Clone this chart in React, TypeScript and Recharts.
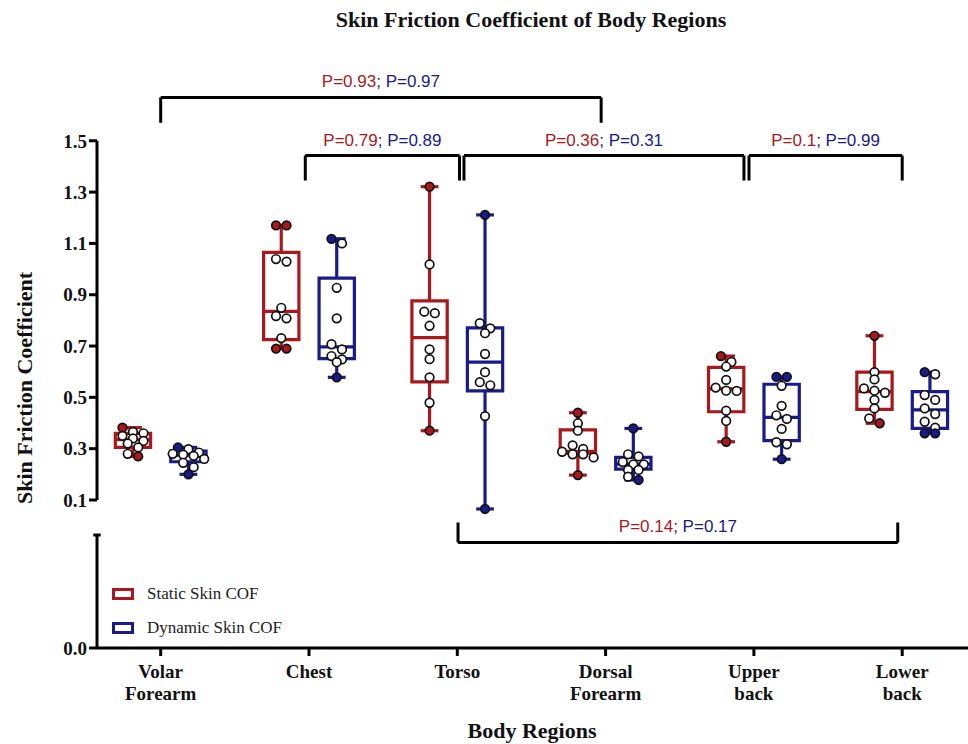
import React from 'react';
import { ComposedChart, XAxis, YAxis, Scatter, ReferenceArea, ReferenceLine, Legend } from 'recharts';

// ---------- data ----------
const categories = ['Volar\nForearm', 'Chest', 'Torso', 'Dorsal\nForearm', 'Upper\nback', 'Lower\nback'];

const staticMin = [0.27, 0.69, 0.37, 0.197, 0.327, 0.399];
const staticQ1 = [0.305, 0.725, 0.56, 0.283, 0.444, 0.453];
const staticMedian = [0.335, 0.835, 0.733, 0.29, 0.533, 0.522];
const staticQ3 = [0.36, 1.065, 0.876, 0.373, 0.617, 0.598];
const staticMax = [0.382, 1.17, 1.321, 0.44, 0.661, 0.74];

const dynamicMin = [0.2, 0.578, 0.065, 0.178, 0.259, 0.36];
const dynamicQ1 = [0.249, 0.651, 0.525, 0.22, 0.331, 0.379];
const dynamicMedian = [0.275, 0.697, 0.637, 0.24, 0.422, 0.451];
const dynamicQ3 = [0.291, 0.965, 0.771, 0.266, 0.551, 0.522];
const dynamicMax = [0.305, 1.118, 1.211, 0.379, 0.58, 0.598];

const staticPoints = [
  [0.382, 0.365, 0.36, 0.35, 0.34, 0.33, 0.32, 0.305, 0.28, 0.27],
  [1.17, 1.17, 1.039, 1.029, 0.849, 0.817, 0.808, 0.731, 0.69, 0.69],
  [1.321, 1.018, 0.834, 0.828, 0.779, 0.687, 0.649, 0.578, 0.479, 0.37],
  [0.44, 0.399, 0.37, 0.313, 0.299, 0.288, 0.278, 0.278, 0.266, 0.197],
  [0.661, 0.638, 0.62, 0.568, 0.538, 0.526, 0.525, 0.448, 0.408, 0.327],
  [0.74, 0.598, 0.57, 0.535, 0.526, 0.518, 0.49, 0.457, 0.418, 0.399],
];
const dynamicPoints = [
  [0.305, 0.298, 0.285, 0.28, 0.277, 0.272, 0.26, 0.245, 0.228, 0.2],
  [1.118, 1.1, 0.927, 0.808, 0.707, 0.687, 0.661, 0.648, 0.637, 0.578],
  [1.211, 0.789, 0.769, 0.75, 0.669, 0.598, 0.559, 0.547, 0.427, 0.065],
  [0.379, 0.278, 0.27, 0.248, 0.239, 0.239, 0.217, 0.217, 0.191, 0.178],
  [0.58, 0.58, 0.545, 0.467, 0.43, 0.416, 0.377, 0.325, 0.317, 0.259],
  [0.598, 0.59, 0.509, 0.49, 0.457, 0.435, 0.405, 0.382, 0.36, 0.36],
];

const yTickValues = [0.1, 0.3, 0.5, 0.7, 0.9, 1.1, 1.3, 1.5];
const zeroTickLabel = '0.0';

const comparisonFrom = [0, 0.975, 2.045, 3.967, 2.005];
const comparisonTo = [2.97, 2.015, 3.933, 5.0, 4.97];
const comparisonLevel = [1.669, 1.4425, 1.4425, 1.4425, -0.0656];
const comparisonTip = [1.57, 1.345, 1.345, 1.345, 0.0123];
const staticP = ['P=0.93', 'P=0.79', 'P=0.36', 'P=0.1', 'P=0.14'];
const dynamicP = ['P=0.97', 'P=0.89', 'P=0.31', 'P=0.99', 'P=0.17'];

const seriesNames = ['Static Skin COF', 'Dynamic Skin COF'];

// ---------- layout / style ----------
const RED = '#A8191E';
const BLUE = '#1A1A8A';
const SERIF = '"Liberation Serif", "Times New Roman", serif';
const SANS = '"Liberation Sans", Arial, sans-serif';

const X_MIN = -0.4295;
const X_MAX = 5.4437;
const Y_MIN = -0.4768; // position where the broken lower segment shows 0.0
const Y_MAX = 1.8927;
const LOWER_TOP = -0.0364;
const UPPER_BOTTOM = 0.1;
const UPPER_TOP = 1.5;

const OFFSET = 0.187;
const HALF_BOX = 0.119;
const HALF_CAP = 0.06;
const PX_PER_CAT = 148.3;
const PX_PER_VAL = 256.6;

function beeswarm(values: number[], center: number) {
  const sorted = [...values].sort((a, b) => b - a);
  const rows: number[][] = [];
  sorted.forEach((v) => {
    const row = rows[rows.length - 1];
    if (row && row.length < 4 && (row[0] - v) * PX_PER_VAL < 6) row.push(v);
    else rows.push([v]);
  });
  const out: { x: number; y: number; v: number }[] = [];
  rows.forEach((row) => {
    row.forEach((v, k) => {
      const dx = ((k - (row.length - 1) / 2) * 10.5) / PX_PER_CAT;
      out.push({ x: center + dx, y: v, v });
    });
  });
  return out;
}

function buildPoints(points: number[][], mins: number[], maxs: number[], side: number) {
  const res: any[] = [];
  points.forEach((vals, i) => {
    beeswarm(vals, i + side * OFFSET).forEach((p) => {
      res.push({ x: p.x, y: p.y, filled: p.v === mins[i] || p.v === maxs[i] });
    });
  });
  return res;
}

const staticData = buildPoints(staticPoints, staticMin, staticMax, -1);
const dynamicData = buildPoints(dynamicPoints, dynamicMin, dynamicMax, 1);

function boxElements(prefix: string, side: number, color: string, mins: number[], q1: number[], med: number[], q3: number[], maxs: number[]) {
  const els: any[] = [];
  categories.forEach((_, i) => {
    const c = i + side * OFFSET;
    const common = { stroke: color, strokeWidth: 3.2, ifOverflow: 'visible' as const };
    els.push(
      <ReferenceArea key={`${prefix}-box-${i}`} x1={c - HALF_BOX} x2={c + HALF_BOX} y1={q1[i]} y2={q3[i]} fill="none" fillOpacity={0} stroke={color} strokeWidth={3.2} ifOverflow="visible" />
    );
    els.push(<ReferenceLine key={`${prefix}-med-${i}`} segment={[{ x: c - HALF_BOX, y: med[i] }, { x: c + HALF_BOX, y: med[i] }]} {...common} />);
    els.push(<ReferenceLine key={`${prefix}-wt-${i}`} segment={[{ x: c, y: q3[i] }, { x: c, y: maxs[i] }]} {...common} />);
    els.push(<ReferenceLine key={`${prefix}-wb-${i}`} segment={[{ x: c, y: q1[i] }, { x: c, y: mins[i] }]} {...common} />);
    els.push(<ReferenceLine key={`${prefix}-ct-${i}`} segment={[{ x: c - HALF_CAP, y: maxs[i] }, { x: c + HALF_CAP, y: maxs[i] }]} {...common} />);
    els.push(<ReferenceLine key={`${prefix}-cb-${i}`} segment={[{ x: c - HALF_CAP, y: mins[i] }, { x: c + HALF_CAP, y: mins[i] }]} {...common} />);
  });
  return els;
}

const PLabel = (props: any) => {
  const vb = props.viewBox || {};
  const cx = vb.x + vb.width / 2;
  const y = vb.y - 10;
  return (
    <text x={cx} y={y} textAnchor="middle" fontFamily={SANS} fontSize={17}>
      <tspan fill={RED}>{props.sp}</tspan>
      <tspan fill={BLUE}>{'; '}{props.dp}</tspan>
    </text>
  );
};

function bracketElements() {
  const els: any[] = [];
  comparisonFrom.forEach((from, i) => {
    const to = comparisonTo[i];
    const lv = comparisonLevel[i];
    const tip = comparisonTip[i];
    const common = { stroke: '#000', strokeWidth: 3, ifOverflow: 'visible' as const };
    els.push(
      <ReferenceLine key={`br-h-${i}`} segment={[{ x: from, y: lv }, { x: to, y: lv }]} {...common}
        label={<PLabel sp={staticP[i]} dp={dynamicP[i]} />} />
    );
    els.push(<ReferenceLine key={`br-l-${i}`} segment={[{ x: from, y: lv }, { x: from, y: tip }]} {...common} />);
    els.push(<ReferenceLine key={`br-r-${i}`} segment={[{ x: to, y: lv }, { x: to, y: tip }]} {...common} />);
  });
  return els;
}

const XTick = (props: any) => {
  const { x, y, payload } = props;
  const lines = String(categories[payload.value] ?? '').split('\n');
  return (
    <text x={x} y={y} textAnchor="middle" fontFamily={SERIF} fontWeight="bold" fontSize={19} fill="#111">
      {lines.map((l, k) => (
        <tspan key={k} x={x} dy={k === 0 ? 20 : 22}>{l}</tspan>
      ))}
    </text>
  );
};

const YTitle = () => (
  <text x={24} y={388} transform="rotate(-90, 24, 388)" textAnchor="middle" dominantBaseline="central"
    fontFamily={SERIF} fontWeight="bold" fontSize={22} fill="#111">Skin Friction Coefficient</text>
);

const XTitle = () => (
  <text x={532} y={738} textAnchor="middle" fontFamily={SERIF} fontWeight="bold" fontSize={22} fill="#111">Body Regions</text>
);

const LegendContent = () => (
  <div style={{ fontFamily: SERIF, fontSize: 17, color: '#222' }}>
    {seriesNames.map((n, k) => (
      <div key={n} style={{ display: 'flex', alignItems: 'center', height: 34 }}>
        <div style={{ width: 16, height: 6, border: `3px solid ${k === 0 ? RED : BLUE}`, marginRight: 13 }} />
        <span>{n}</span>
      </div>
    ))}
  </div>
);

const Dot = (color: string) => (props: any) => {
  const { cx, cy, payload } = props;
  if (cx == null || cy == null) return null;
  return <circle cx={cx} cy={cy} r={4.3} fill={payload.filled ? color : '#fff'} stroke="#111" strokeWidth={1.7} />;
};

export default function App() {
  return (
    <div style={{ position: 'absolute', left: 0, top: 0, width: 968, height: 744, background: '#fff' }}>
      <div style={{ position: 'absolute', left: 0, width: 1062, top: 7, textAlign: 'center', fontFamily: SERIF, fontWeight: 'bold', fontSize: 22, lineHeight: '26px', color: '#111' }}>
        Skin Friction Coefficient of Body Regions
      </div>
      <ComposedChart width={968} height={744} margin={{ top: 40, right: 0, bottom: 0, left: 0 }}>
        <XAxis dataKey="x" type="number" domain={[X_MIN, X_MAX]} allowDataOverflow ticks={[0, 1, 2, 3, 4, 5]}
          height={96} axisLine={{ stroke: '#000', strokeWidth: 3 }} tickLine={{ stroke: '#000', strokeWidth: 3 }}
          tickSize={8} tick={<XTick />} interval={0} label={<XTitle />} />
        <YAxis type="number" domain={[Y_MIN, Y_MAX]} allowDataOverflow ticks={[Y_MIN, ...yTickValues]} width={97}
          axisLine={false} tickLine={{ stroke: '#000', strokeWidth: 3 }} tickSize={8}
          tickFormatter={(v: number) => (v < 0 ? zeroTickLabel : v.toFixed(1))}
          tick={{ fontFamily: SERIF, fontWeight: 'bold', fontSize: 19, fill: '#111' }} label={<YTitle />} />
        <ReferenceLine segment={[{ x: X_MIN, y: UPPER_BOTTOM }, { x: X_MIN, y: UPPER_TOP }]} stroke="#000" strokeWidth={3} ifOverflow="visible" />
        <ReferenceLine segment={[{ x: X_MIN, y: Y_MIN }, { x: X_MIN, y: LOWER_TOP }]} stroke="#000" strokeWidth={3} ifOverflow="visible" />
        <ReferenceLine segment={[{ x: X_MIN - 0.025, y: LOWER_TOP }, { x: X_MIN + 0.025, y: LOWER_TOP }]} stroke="#000" strokeWidth={3} ifOverflow="visible" />
        {bracketElements()}
        {boxElements('s', -1, RED, staticMin, staticQ1, staticMedian, staticQ3, staticMax)}
        {boxElements('d', 1, BLUE, dynamicMin, dynamicQ1, dynamicMedian, dynamicQ3, dynamicMax)}
        <Scatter name={seriesNames[0]} data={staticData} dataKey="y" shape={Dot(RED)} isAnimationActive={false} />
        <Scatter name={seriesNames[1]} data={dynamicData} dataKey="y" shape={Dot(BLUE)} isAnimationActive={false} />
        <Legend layout="vertical" align="center" verticalAlign="middle" content={<LegendContent />}
          wrapperStyle={{ left: 112, top: 577, width: 220, height: 70 }} />
      </ComposedChart>
    </div>
  );
}
